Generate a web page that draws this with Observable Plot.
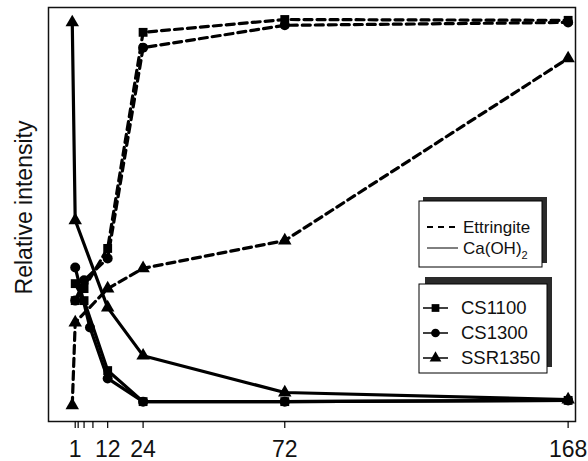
<!DOCTYPE html>
<html>
<head>
<meta charset="utf-8">
<script src="https://cdn.jsdelivr.net/npm/d3@7"></script>
<script src="https://cdn.jsdelivr.net/npm/@observablehq/plot@0.6"></script>
<style>
  html, body { margin: 0; padding: 0; background: #fff; }
  #chart { position: relative; width: 588px; height: 461px; font-family: "Liberation Sans", Arial, sans-serif; }
  #chart svg { position: absolute; left: 0; top: 0; }
</style>
</head>
<body>
<div id="chart"></div>
<script>
// Hydration time (h)
const tickHours = [1, 2, 4, 7, 12, 24, 72, 168];
const tickLabels = {1: "1", 12: "12", 24: "24", 72: "72", 168: "168"};

// Ettringite (dashed)
const cs1100EttHours = [1, 4, 12, 24, 72, 168];
const cs1100Ett      = [29.2, 32.1, 41.8, 94.0, 97.1, 96.9];
const cs1300EttHours = [1, 4, 12, 24, 72, 168];
const cs1300Ett      = [29.2, 34.1, 39.4, 90.3, 95.7, 96.4];
const ssr1350EttHours = [0, 1, 12, 24, 72, 168];
const ssr1350Ett      = [3.9, 23.9, 32.1, 37.0, 43.7, 87.7];

// Ca(OH)2 (solid)
const cs1100ChHours = [1, 4, 12, 24, 72, 168];
const cs1100Ch      = [33.3, 29.2, 12.3, 4.8, 4.8, 5.1];
const cs1300ChHours = [1, 6, 12, 24, 72, 168];
const cs1300Ch      = [37.2, 22.7, 10.4, 4.8, 4.8, 5.1];
const ssr1350ChHours = [0, 1, 12, 24, 72, 168];
const ssr1350Ch      = [96.4, 48.6, 27.5, 15.9, 7.0, 5.3];

const samples = ["CS1100", "CS1300", "SSR1350"];
const phases = ["Ettringite", "Ca(OH)2"];
const symbols = {CS1100: "square", CS1300: "circle", SSR1350: "triangle"};

const rows = [];
function add(sample, phase, hs, vs) {
  hs.forEach((h, i) => rows.push({sample, phase, hour: h, value: vs[i], key: sample + "|" + phase}));
}
add("CS1100", "Ettringite", cs1100EttHours, cs1100Ett);
add("CS1300", "Ettringite", cs1300EttHours, cs1300Ett);
add("SSR1350", "Ettringite", ssr1350EttHours, ssr1350Ett);
add("CS1100", "Ca(OH)2", cs1100ChHours, cs1100Ch);
add("CS1300", "Ca(OH)2", cs1300ChHours, cs1300Ch);
add("SSR1350", "Ca(OH)2", ssr1350ChHours, ssr1350Ch);

const ett = rows.filter(d => d.phase === "Ettringite");
const ch = rows.filter(d => d.phase === "Ca(OH)2");

const plot = Plot.plot({
  width: 588,
  height: 461,
  marginLeft: 48,
  marginRight: 13,
  marginTop: 7,
  marginBottom: 40,
  style: {fontFamily: "Liberation Sans, Arial, sans-serif", background: "white", overflow: "visible"},
  x: {domain: [-8.05, 170.5]},
  y: {domain: [0, 100]},
  marks: [
    Plot.line(ch, {x: "hour", y: "value", z: "key", stroke: "black", strokeWidth: 3.2}),
    Plot.line(ett, {x: "hour", y: "value", z: "key", stroke: "black", strokeWidth: 3.2, strokeDasharray: "8,5"}),
    Plot.dot(rows, {x: "hour", y: "value", symbol: d => symbols[d.sample], r: 5, fill: "black", stroke: "none"}),
    Plot.frame({stroke: "#111", strokeWidth: 1.5}),
    Plot.axisX({ticks: tickHours, tickFormat: d => tickLabels[d] ?? "", tickSize: 7, tickPadding: 12,
      fontSize: 23, label: null, stroke: "black", strokeWidth: 1.2, color: "#111"}),
    Plot.axisY({ticks: [], label: null}),
    Plot.text(["Relative intensity"], {frameAnchor: "left", rotate: -90, dx: -24, dy: -7,
      textAnchor: "middle", fontSize: 23, fill: "#111"})
  ],
  symbol: {domain: ["square", "circle", "triangle"], range: ["square", "circle", "triangle"]}
});
document.getElementById("chart").appendChild(plot);

// Legend overlay
const leg = d3.select("#chart").append("svg").attr("width", 588).attr("height", 461)
  .style("font-family", "Liberation Sans, Arial, sans-serif");

// box 1: phases
leg.append("rect").attr("x", 423).attr("y", 197).attr("width", 124).attr("height", 66).attr("fill", "#2a2a2a");
leg.append("rect").attr("x", 419).attr("y", 201).attr("width", 123).attr("height", 66).attr("fill", "white").attr("stroke", "black").attr("stroke-width", 1);
const phaseY = [227, 248];
phases.forEach((p, i) => {
  leg.append("line").attr("x1", 427).attr("x2", 458).attr("y1", phaseY[i]).attr("y2", phaseY[i])
    .attr("stroke", "black").attr("stroke-width", i === 0 ? 2 : 1)
    .attr("stroke-dasharray", i === 0 ? "6,5" : null);
  const t = leg.append("text").attr("x", 463).attr("y", phaseY[i]).attr("dy", "0.35em")
    .attr("font-size", 17).attr("fill", "#111");
  if (p === "Ca(OH)2") {
    t.append("tspan").text("Ca(OH)");
    t.append("tspan").attr("font-size", 11).attr("dy", "0.45em").text("2");
  } else t.text(p);
});

// box 2: samples
leg.append("rect").attr("x", 425).attr("y", 277).attr("width", 127).attr("height", 90).attr("fill", "#2a2a2a");
leg.append("rect").attr("x", 419).attr("y", 284).attr("width", 128).attr("height", 89).attr("fill", "white").attr("stroke", "black").attr("stroke-width", 1);
const sampleY = [308, 333, 358];
samples.forEach((s, i) => {
  const y = sampleY[i];
  leg.append("line").attr("x1", 423).attr("x2", 448).attr("y1", y).attr("y2", y).attr("stroke", "black").attr("stroke-width", 1.5);
  const sym = {square: d3.symbolSquare, circle: d3.symbolCircle, triangle: d3.symbolTriangle}[symbols[s]];
  leg.append("path").attr("d", d3.symbol(sym, 60)()).attr("transform", `translate(435.5,${y})`).attr("fill", "black");
  leg.append("text").attr("x", 461).attr("y", y).attr("dy", "0.35em").attr("font-size", 18.5).attr("fill", "#111").text(s);
});
</script>
</body>
</html>
